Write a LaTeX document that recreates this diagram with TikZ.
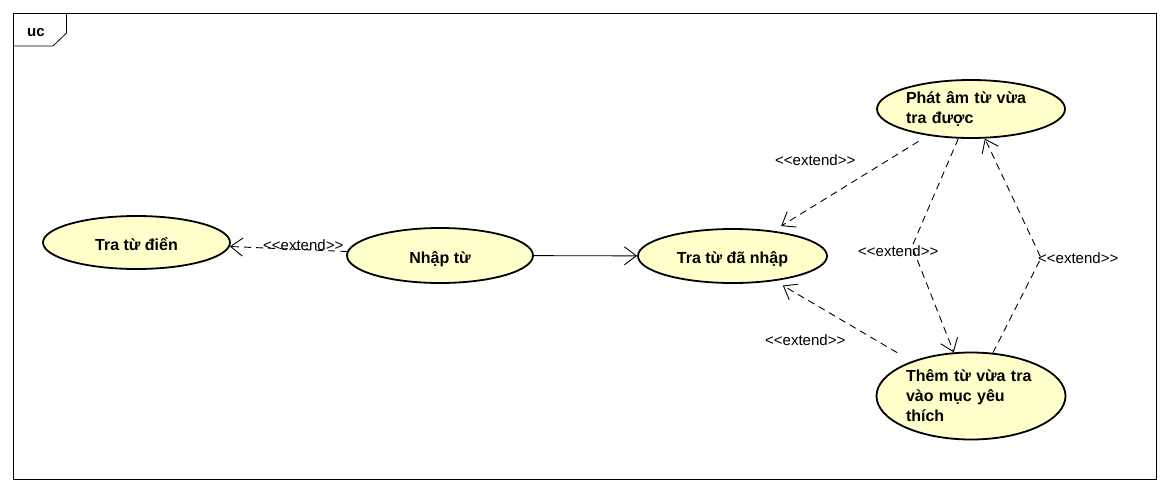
\documentclass[tikz,border=0pt]{standalone}
\usepackage{fontspec}
\setmainfont{Liberation Sans}
\usepackage{tikz}
\usetikzlibrary{arrows.meta,shapes.geometric}
\definecolor{ucyellow}{RGB}{255,255,204}
\newcommand{\stereo}[1]{<\kern0pt<#1>\kern0pt>}

\begin{document}
\begin{tikzpicture}[x=1pt,y=-1pt,
  ucase/.style={ellipse,draw,line width=1.8pt,fill=ucyellow,inner sep=1pt,font=\bfseries\fontsize{16}{20}\selectfont},
  ucline/.style={ucase,text height=18pt,text depth=3pt},
  ucpara/.style={ucase,text width=130pt,align=left},
  ext/.style={anchor=base west,inner sep=0pt,font=\fontsize{15}{18}\selectfont},
  uctip/.style={-{Straight Barb[length=12pt,width=18pt]}},
  dep/.style={uctip,line width=0.9pt,dash pattern=on 7pt off 5pt},
  assoc/.style={uctip,line width=0.9pt}]
\path[fill=white] (0,0) rectangle (1169,493);
% frame
\draw[line width=1pt] (13,13) rectangle (1156,479);
\draw[line width=0.8pt] (13,46) -- (53,46) -- (66.5,33) -- (66.5,13);
\node[anchor=base west,inner sep=0pt,font=\bfseries\fontsize{15}{18}\selectfont] (uc) at (27,36.5) {uc};
% use cases
\node[ucline,minimum width=187pt,minimum height=53pt] (TD) at (136.5,242.5) {Tra từ điển};
\node[ucline,minimum width=186pt,minimum height=55pt] (NT) at (440,255.5) {Nhập từ};
\node[ucline,minimum width=189pt,minimum height=54pt] (TN) at (732.5,256) {Tra từ đã nhập};
\node[ucpara,minimum width=188pt,minimum height=58pt] (PA) at (971,109) {Phát âm từ vừa\\tra được};
\node[ucpara,minimum width=189pt,minimum height=87pt] (TM) at (971,396) {Thêm từ vừa tra\\vào mục yêu\\thích};
\coordinate (b1) at (912,246.5);
\coordinate (b2) at (1041,258);
% relations
\path[dep]
(NT) edge (TD)
(PA) edge[shorten <=11pt,shorten >=9pt] (TN)
(TM) edge[shorten <=17pt,shorten >=9pt] (TN);
\path[assoc] (NT) edge (TN);
\draw[dep] (PA) -- (b1) -- (TM);
\draw[dep] (TM) -- (b2) -- (PA);
\node[ext] (E1) at (263,250) {\stereo{extend}};
\node[ext] (E2) at (775,165) {\stereo{extend}};
\node[ext] (E3) at (858,256) {\stereo{extend}};
\node[ext] (E4) at (1038,263) {\stereo{extend}};
\node[ext] (E5) at (765,345) {\stereo{extend}};
\end{tikzpicture}
\end{document}
